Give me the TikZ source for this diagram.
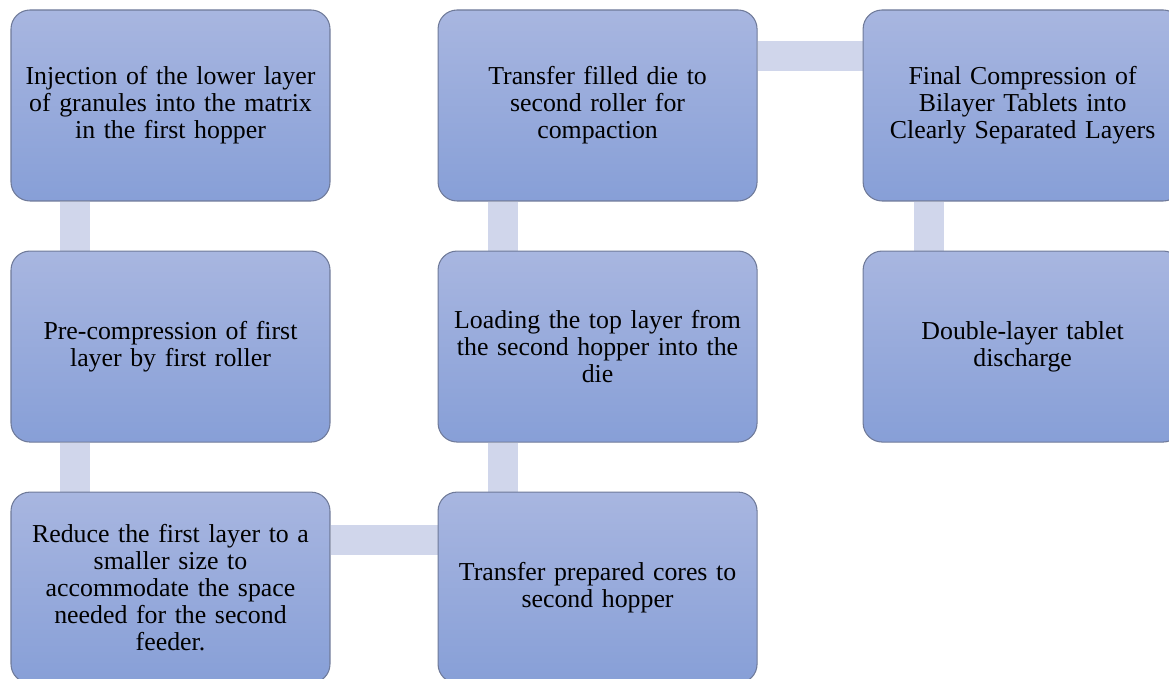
\documentclass[tikz,border=0pt]{standalone}
\usepackage{fontspec}
\setmainfont[WordSpace=0.75]{Liberation Serif}
\usepackage{xcolor}
\usepackage{tikz}
\usetikzlibrary{positioning, backgrounds}

\definecolor{stepTop}{HTML}{A8B6E0}
\definecolor{stepBot}{HTML}{879FD7}
\definecolor{stepLine}{HTML}{6F7A99}
\definecolor{linkCol}{HTML}{D0D6EB}

\begin{document}
\begin{tikzpicture}[
      stepbox/.style={draw=stepLine, line width=0.6pt, rounded corners=0.38cm, top color=stepTop, bottom color=stepBot,
        minimum width=6.38cm, minimum height=3.82cm, align=center, text width=6.3cm, inner sep=0pt,
        font=\fontsize{14.7}{15.4}\selectfont},
      link/.style={draw=linkCol, line width=0.6cm},
    ]

    \useasboundingbox (0,0) rectangle (23.38,-13.58);
    \clip (0,0) rectangle (23.38,-13.58);

    \node[stepbox] (inject) at (3.41,-2.11) {Injection of the lower layer\\of granules into the matrix\\in the first hopper};
    \node[stepbox, below=0.98cm of inject] (precomp) {Pre-compression of first\\layer by first roller};
    \node[stepbox, below=0.98cm of precomp] (reduce) {Reduce the first layer to a\\smaller size to\\accommodate the space\\needed for the second\\feeder.};

    \node[stepbox, right=2.14cm of reduce] (cores) {Transfer prepared cores to\\second hopper};
    \node[stepbox, above=0.98cm of cores] (toplayer) {Loading the top layer from\\the second hopper into the\\die};
    \node[stepbox, above=0.98cm of toplayer] (filled) {Transfer filled die to\\second roller for\\compaction};

    \node[stepbox, right=2.1cm of filled] (final) {Final Compression of\\Bilayer Tablets into\\Clearly Separated Layers};
    \node[stepbox, below=0.98cm of final] (discharge) {Double-layer tablet\\discharge};

    \begin{scope}[on background layer]
      \draw[link] ([xshift=1.3cm]inject.south west) -- ([xshift=1.3cm]precomp.north west);
      \draw[link] ([xshift=1.3cm]precomp.south west) -- ([xshift=1.3cm]reduce.north west);
      \draw[link] ([yshift=-0.96cm]reduce.north east) -- ([yshift=-0.96cm]cores.north west);
      \draw[link] ([xshift=1.3cm]cores.north west) -- ([xshift=1.3cm]toplayer.south west);
      \draw[link] ([xshift=1.3cm]toplayer.north west) -- ([xshift=1.3cm]filled.south west);
      \draw[link] ([yshift=-0.94cm]filled.north east) -- ([yshift=-0.94cm]final.north west);
      \draw[link] ([xshift=1.32cm]final.south west) -- ([xshift=1.32cm]discharge.north west);
    \end{scope}
  \end{tikzpicture}
\end{document}
